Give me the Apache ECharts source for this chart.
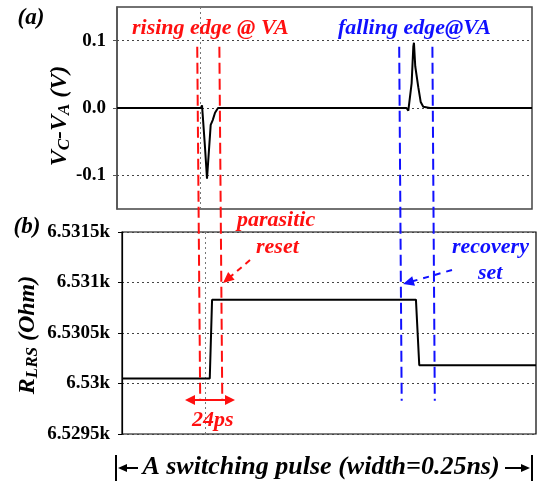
<!DOCTYPE html>
<html>
<head>
<meta charset="utf-8">
<script src="https://cdn.jsdelivr.net/npm/echarts@6/dist/echarts.min.js"></script>
<style>html,body{margin:0;padding:0;background:#fff}#main{width:539px;height:485px}</style>
</head>
<body>
<div id="main"></div>
<script>
// time in ps, panel (a): VC-VA in volts
var vTime = [0, 91, 92.2, 95.4, 97.6, 101.6, 103.8, 106.3, 109.5, 314, 315.9, 317.7, 319.5, 321.3, 322, 323.4, 326.7, 329.3, 332.1, 339.4, 450];
var vDiff = [0, 0, 0.004, -0.058, -0.105, -0.025, -0.018, -0.007, 0, 0, -0.004, -0.003, 0.037, 0.091, 0.097, 0.062, 0.031, 0.009, 0.002, 0, 0];
// panel (b): RLRS in ohm
var rTime = [0, 95.4, 97.9, 319.5, 323.1, 450];
var rLrs = [6530.05, 6530.05, 6530.83, 6530.83, 6530.18, 6530.18];
var yTicksA = [-0.1, 0, 0.1];
var gridX = 90;
// dashed edge markers: x at top of (a), x at bottom of (b)
var edgeTop = [87, 111, 306, 342];
var edgeBot = [85, 109, 304, 340];
var edgeColor = ['#ff1010', '#ff1010', '#1010ff', '#1010ff'];

var FONT = 'Liberation Serif';
var RED = '#ff1010', BLUE = '#1010ff';

function zip(a, b) { return a.map(function (v, i) { return [v, b[i]]; }); }

var chart = echarts.init(document.getElementById('main'));

var dotted = { type: [2, 3], color: '#444', width: 1 };

var option = {
  animation: false,
  grid: [
    { left: 117, top: 7, right: 7, bottom: 276, show: true, borderColor: '#444', borderWidth: 1.5 },
    { left: 122, top: 232, right: 3, bottom: 51, show: true, borderColor: '#000', borderWidth: 1.2 }
  ],
  xAxis: [
    { type: 'value', gridIndex: 0, min: 0, max: 450, show: false },
    { type: 'value', gridIndex: 1, min: 0, max: 450, show: false }
  ],
  yAxis: [
    {
      type: 'value', gridIndex: 0, min: -0.15, max: 0.15, offset: 4,
      axisLine: { show: true, lineStyle: { color: '#555', width: 1.5 } },
      axisTick: { show: true, length: 4, customValues: yTicksA, lineStyle: { color: '#555' } },
      axisLabel: { customValues: yTicksA, margin: 7, color: '#000', fontFamily: FONT, fontWeight: 'bold', fontSize: 19,
        formatter: function (v) { return v.toFixed(1); } },
      splitLine: { show: false }
    },
    {
      type: 'value', gridIndex: 1, min: 6529.5, max: 6531.5, interval: 0.5, offset: 6,
      axisLine: { show: true, lineStyle: { color: '#000', width: 1.2 } },
      axisTick: { show: true, length: 4, lineStyle: { color: '#000' } },
      axisLabel: { margin: 6, color: '#000', fontFamily: FONT, fontWeight: 'bold', fontSize: 19,
        formatter: function (v) { return Number((v / 1000).toFixed(4)) + 'k'; } },
      splitLine: { show: true, lineStyle: dotted }
    }
  ],
  series: [
    {
      type: 'line', xAxisIndex: 0, yAxisIndex: 0, data: zip(vTime, vDiff),
      showSymbol: false, lineStyle: { color: '#000', width: 2 }, z: 5,
      markLine: {
        silent: true, symbol: 'none', label: { show: false }, lineStyle: dotted, z: 1,
        data: [{ xAxis: gridX, lineStyle: { type: [2, 3], color: '#777' } }].concat(yTicksA.map(function (v) { return { yAxis: v }; }))
      }
    },
    {
      type: 'line', xAxisIndex: 1, yAxisIndex: 1, data: zip(rTime, rLrs),
      showSymbol: false, lineStyle: { color: '#000', width: 2 }, z: 5,
      markLine: {
        silent: true, symbol: 'none', label: { show: false }, z: 1,
        lineStyle: { type: [2, 3], color: '#777', width: 1 },
        data: [{ xAxis: gridX }]
      }
    }
  ]
};
chart.setOption(option);

function txt(x, y, text, color, size, align, extra) {
  var o = {
    type: 'text', x: x, y: y, z: 100,
    style: { text: text, fill: color, font: 'italic bold ' + size + 'px "' + FONT + '"', align: align || 'left', verticalAlign: 'middle' }
  };
  if (extra) for (var k in extra) o[k] = extra[k];
  return o;
}
function line(x1, y1, x2, y2, color, w, dash) {
  return { type: 'line', z: 90, shape: { x1: x1, y1: y1, x2: x2, y2: y2 },
    style: { stroke: color, lineWidth: w, lineDash: dash || null } };
}
function head(tx, ty, fx, fy, color, len, hw) {
  var dx = tx - fx, dy = ty - fy, d = Math.sqrt(dx * dx + dy * dy);
  dx /= d; dy /= d;
  var bx = tx - dx * len, by = ty - dy * len;
  return { type: 'polygon', z: 91, shape: { points: [[tx, ty], [bx - dy * hw, by + dx * hw], [bx + dy * hw, by - dx * hw]] },
    style: { fill: color } };
}

var g = [];
g.push(txt(31, 18, '(a)', '#000', 23, 'center'));
g.push(txt(27, 227, '(b)', '#000', 23, 'center'));

var nameFont = 'italic bold 24px "' + FONT + '"';
var subFont = 'italic bold 17px "' + FONT + '"';
g.push({
  type: 'text', x: 60, y: 116, rotation: Math.PI / 2, z: 100,
  style: {
    text: '{m|V}{s|C}{m|-V}{s|A}{m| (V)}', align: 'center', verticalAlign: 'middle',
    rich: { m: { font: nameFont, fill: '#000', lineHeight: 26 }, s: { font: subFont, fill: '#000', verticalAlign: 'bottom', lineHeight: 26, padding: [4, 0, 0, 0] } }
  }
});
g.push({
  type: 'text', x: 28, y: 335, rotation: Math.PI / 2, z: 100,
  style: {
    text: '{m|R}{s|LRS}{m| (Ohm)}', align: 'center', verticalAlign: 'middle',
    rich: { m: { font: nameFont, fill: '#000', lineHeight: 26 }, s: { font: subFont, fill: '#000', verticalAlign: 'bottom', lineHeight: 26, padding: [4, 0, 0, 0] } }
  }
});

g.push(txt(132, 28, 'rising edge @ VA', RED, 22));
g.push(txt(338, 28, 'falling edge@VA', BLUE, 22));
g.push(txt(237, 220, 'parasitic', RED, 22));
g.push(txt(256, 247, 'reset', RED, 22));
g.push(txt(452, 247, 'recovery', BLUE, 22));
g.push(txt(478, 273, 'set', BLUE, 22));
g.push(txt(192, 420, '24ps', RED, 22));
g.push(txt(321, 467, 'A switching pulse (width=0.25ns)', '#000', 26, 'center'));

// dashed edge markers spanning both panels
for (var i = 0; i < edgeTop.length; i++) {
  var p1 = chart.convertToPixel({ gridIndex: 0 }, [edgeTop[i], 0.091]);
  var p2 = chart.convertToPixel({ gridIndex: 1 }, [edgeBot[i], 6529.83]);
  g.push(line(p1[0], p1[1], p2[0], p2[1], edgeColor[i], 2, [11, 5]));
}

// dashed pointer arrows
g.push(line(250, 260, 229, 278, RED, 2, [6, 5]));
g.push(head(223, 283, 250, 260, RED, 11, 5));
g.push(line(452, 270, 410, 282, BLUE, 2, [6, 6]));
g.push(head(403, 284, 452, 270, BLUE, 11, 5));

// 24ps double arrow
g.push(line(190, 400, 230, 400, RED, 2));
g.push(head(185, 400, 200, 400, RED, 10, 5));
g.push(head(235, 400, 220, 400, RED, 10, 5));

// pulse width bracket
g.push(line(116, 455, 116, 481, '#000', 2));
g.push(line(532, 455, 532, 481, '#000', 2));
g.push(line(124, 468, 138, 468, '#000', 2));
g.push(head(118, 468, 130, 468, '#000', 9, 4));
g.push(line(505, 468, 524, 468, '#000', 2));
g.push(head(530, 468, 515, 468, '#000', 9, 4));

chart.setOption({ graphic: g });
</script>
</body>
</html>
